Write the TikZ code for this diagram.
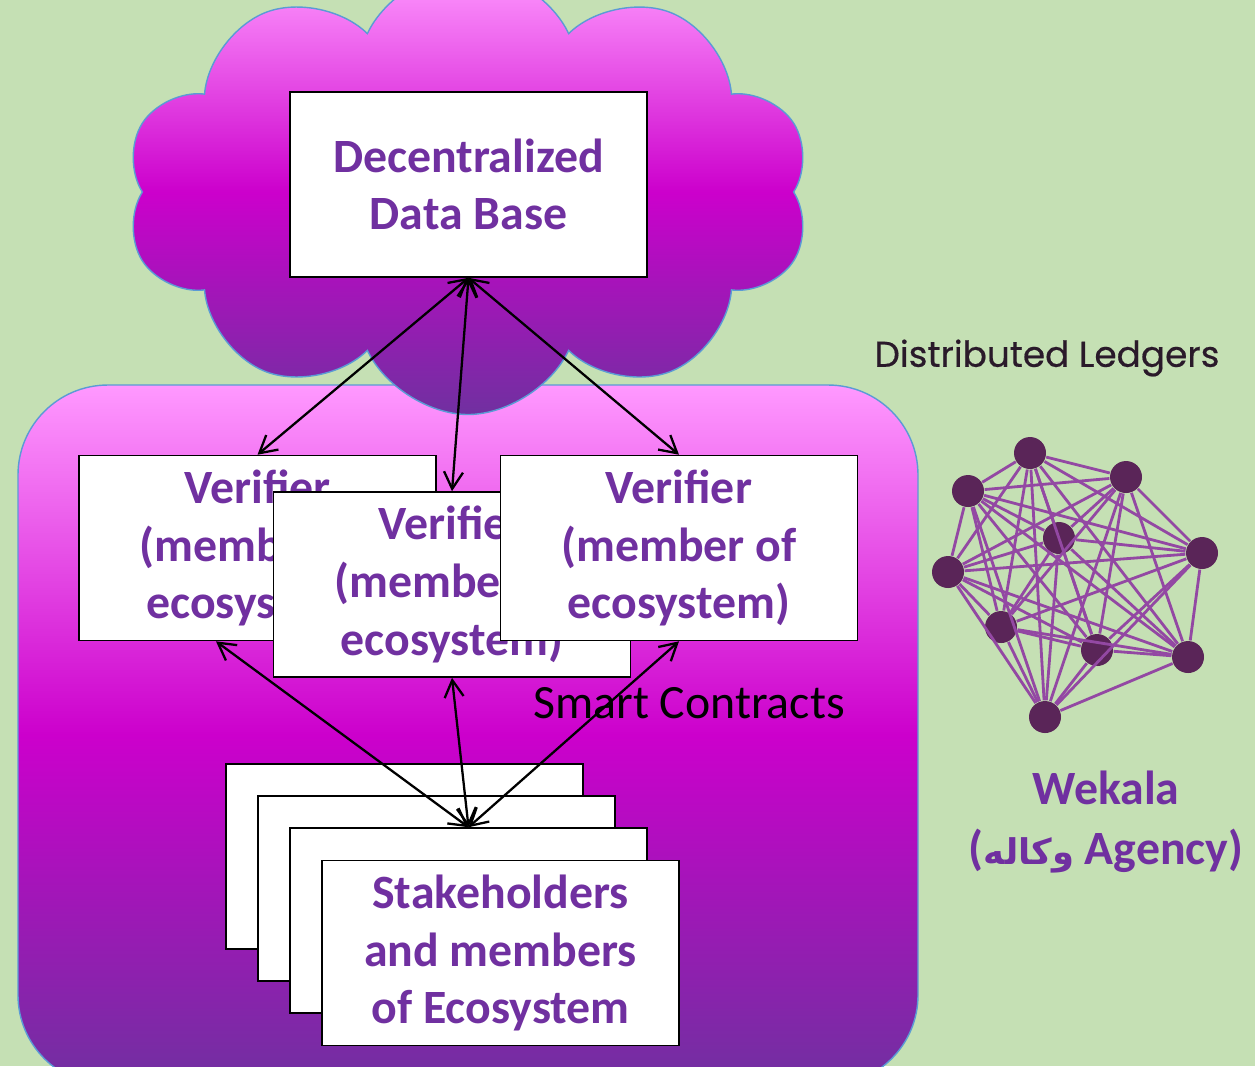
\documentclass[tikz,border=0pt]{standalone}
\usepackage{fontspec}
\setmainfont{Carlito}
\newfontfamily\poppins[FakeBold=0.5]{Poppins}
\newfontfamily\arabicfont[Script=Arabic,Scale=0.74]{DejaVu Sans}
\TeXXeTstate=1
\usetikzlibrary{arrows.meta,shapes.symbols}
\definecolor{bggreen}{HTML}{C5E0B4}
\definecolor{wpurple}{HTML}{7030A0}
\definecolor{pinktop}{HTML}{FF99FF}
\definecolor{magmid}{HTML}{CC00CC}
\definecolor{edgeblue}{HTML}{5B9BD5}
\definecolor{netdotc}{HTML}{5A2558}
\definecolor{netlinec}{HTML}{9348A3}
\definecolor{ledgerc}{HTML}{2A1A2A}
\tikzset{
  box/.style={draw=black,line width=.45pt,fill=white,minimum width=3.57cm,minimum height=1.85cm,inner sep=0pt,align=center,text=wpurple,font=\fontsize{13.6}{16.4}\selectfont\bfseries},
  link/.style={line width=.65pt,{Straight Barb[length=1.7mm,width=1.9mm]}-{Straight Barb[length=1.7mm,width=1.9mm]}},
  shadefill/.style={draw=edgeblue,line width=.4pt,top color=pinktop,bottom color=wpurple,middle color=magmid},
  netdot/.style={circle,fill=netdotc,minimum size=.32cm,inner sep=0pt},
  netline/.style={netlinec,line width=.8pt}
}

\begin{document}
\begin{tikzpicture}[x=0.1mm,y=-0.1mm]
\useasboundingbox (0,0) rectangle (1255,1066);
\clip (0,0) rectangle (1255,1066);
\fill[bggreen] (0,0) rectangle (1255,1066);
% ecosystem panel and cloud
\draw[shadefill,rounded corners=9mm] (18,385) rectangle (918,1085);
\node[cloud,cloud puffs=10,cloud puff arc=130,cloud ignores aspect,minimum width=6.85cm,minimum height=4.45cm,shadefill] (cloud) at (468,192) {};
% boxes
\node[box] (db) at (468.5,184.5) {Decentralized\\Data Base};
\node[box] (vl) at (257.5,548) {Verifier\\(member of\\ecosystem)};
\node[box] (vm) at (452,584.5) {Verifier\\(member of\\ecosystem)};
\node[box] (vr) at (679,548) {Verifier\\(member of\\ecosystem)};
\node[box] (s1) at (404.5,856.5) {};
\node[box] (s2) at (436.5,888.5) {};
\node[box] (s3) at (468.5,920.5) {};
\node[box] (s4) at (500.5,953) {Stakeholders\\and members\\of Ecosystem};
\node[font=\fontsize{13.6}{16.4}\selectfont] (sc) at (689,703) {Smart Contracts};
% arrows
\draw[link] (db.south) -- (vl.north);
\draw[link] (db.south) -- (vm.north);
\draw[link] (db.south) -- (vr.north);
\draw[link] (s3.north) -- (vl.246);
\draw[link] (s3.north) -- (vm.south);
\draw[link] (s3.north) -- (vr.south);
% ledger network
\foreach \p/\q/\r in {1/1030/453,2/1126/477,3/968/491,4/1059/538,5/1202/553,6/948/572,7/1001/627,8/1097/650,9/1188/657,10/1045/717}
  \node[netdot] (n\p) at (\q,\r) {};
\foreach \i in {1,...,9}{
  \pgfmathtruncatemacro\nxt{\i+1}
  \foreach \j in {\nxt,...,10} \draw[netline] (n\i) -- (n\j);
}
\node[font=\poppins\fontsize{10.2}{12}\selectfont,text=ledgerc] (ledger) at (1047,358) {Distributed Ledgers};
\node[align=center,text=wpurple,font=\fontsize{13.6}{16.8}\selectfont\bfseries] (wekala) at (1106,822) {Wekala\\({\arabicfont\beginR وكاله\endR} Agency)};
\end{tikzpicture}
\end{document}
